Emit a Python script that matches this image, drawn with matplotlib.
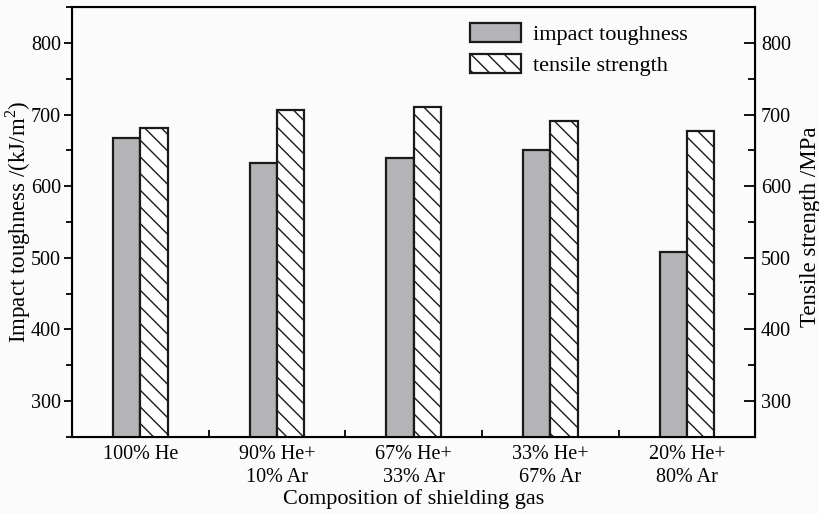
"""Impact toughness and tensile strength vs. shielding gas composition."""
import matplotlib
matplotlib.use("Agg")
import matplotlib.pyplot as plt
import numpy as np
from matplotlib.ticker import MultipleLocator, FixedLocator

plt.rcParams["font.family"] = ["Liberation Serif", "DejaVu Serif"]
plt.rcParams["mathtext.fontset"] = "custom"
plt.rcParams["mathtext.rm"] = "Liberation Serif"
plt.rcParams["hatch.color"] = "#5a5a5a"
plt.rcParams["hatch.linewidth"] = 1.0

gases = ["100% He", "90% He+\n10% Ar", "67% He+\n33% Ar",
         "33% He+\n67% Ar", "20% He+\n80% Ar"]
impact_toughness = [668, 633, 640, 650, 508]   # kJ/m^2
tensile_strength = [682, 706, 711, 691, 677]   # MPa

x = np.arange(len(gases))
width = 0.2
bg = "#fbfbfb"

fig = plt.figure(figsize=(8.2, 5.14), dpi=100, facecolor=bg)
ax = fig.add_axes([0.088, 0.150, 0.833, 0.836])
ax.set_facecolor(bg)

ax.bar(x - width / 2, impact_toughness, width, color="#b4b3b6",
       edgecolor="#1a1a1a", linewidth=1.6, label="impact toughness")
ax.bar(x + width / 2, tensile_strength, width, color="white", hatch="\\\\",
       edgecolor="#1a1a1a", linewidth=1.6, label="tensile strength")

ax.set_xlim(-0.5, 4.5)
ax.set_ylim(250, 850)
ax.set_xticks(x)
ax.set_xticklabels(gases, fontsize=14.5, linespacing=1.3)
ax.xaxis.set_minor_locator(FixedLocator(x[:-1] + 0.5))
ax.tick_params(axis="x", which="major", length=0, pad=6)
ax.tick_params(axis="x", which="minor", direction="in", length=5, width=1.3)

ax.set_yticks(np.arange(300, 801, 100))
ax.yaxis.set_minor_locator(MultipleLocator(50))
ax.tick_params(axis="y", which="both", direction="out", labelsize=14.5,
               width=1.3, pad=2)
ax.tick_params(axis="y", which="major", length=6)
ax.tick_params(axis="y", which="minor", length=4)
for s in ax.spines.values():
    s.set_linewidth(1.5)

ax.set_xlabel("Composition of shielding gas", fontsize=16, labelpad=1)
ax.set_ylabel("Impact toughness /(kJ/m$^2$)", fontsize=16.5)
ax.yaxis.set_label_coords(-0.057, 0.5)

# right axis shares the same range, ticks point into the plot
ax2 = ax.twinx()
ax2.set_ylim(250, 850)
ax2.set_yticks(np.arange(300, 801, 100))
ax2.yaxis.set_minor_locator(MultipleLocator(50))
ax2.tick_params(axis="y", which="both", direction="in", labelsize=14.5,
                width=1.3, pad=4)
ax2.tick_params(axis="y", which="major", length=8)
ax2.tick_params(axis="y", which="minor", length=5)
ax2.set_ylabel("Tensile strength /MPa", fontsize=16.5)
ax2.yaxis.set_label_coords(1.066, 0.49)

ax.legend(loc="upper left", bbox_to_anchor=(0.5525, 1.01), frameon=False,
          fontsize=16, handlelength=2.3, handleheight=0.95, labelspacing=0.4,
          handletextpad=0.55)

fig.savefig("out.png", dpi=100, facecolor=fig.get_facecolor())
